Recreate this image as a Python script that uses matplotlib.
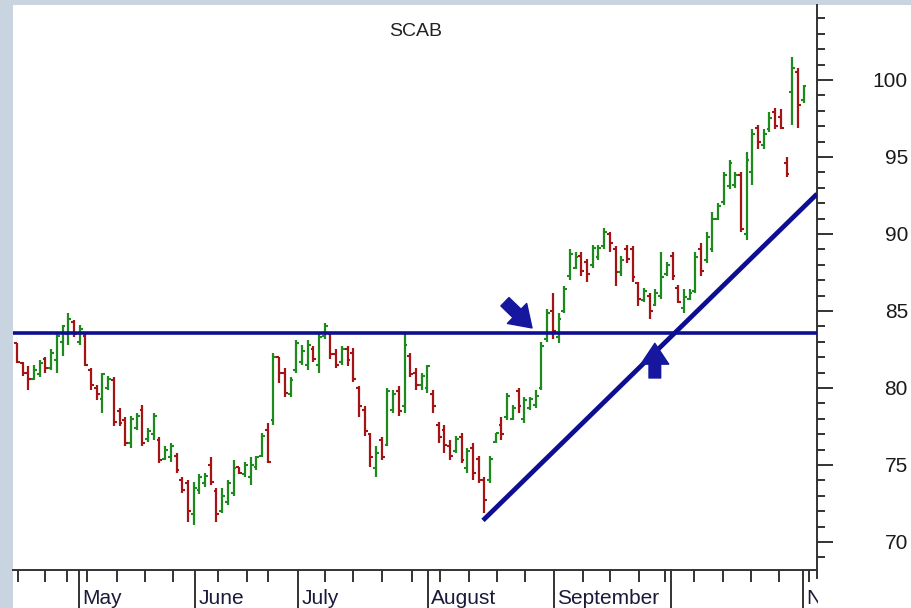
import matplotlib
matplotlib.use("Agg")
import matplotlib.pyplot as plt
from matplotlib.patches import Rectangle, FancyArrowPatch
from matplotlib.lines import Line2D
from matplotlib.ticker import MultipleLocator, FixedLocator, NullFormatter
from matplotlib.transforms import Bbox, TransformedBbox, blended_transform_factory
import numpy as np

# ---------------- data ----------------
title = "SCAB"
highs = [82.9, 81.7, 81.4, 81.5, 81.8, 82.0, 82.5, 83.6, 84.1, 84.9,
         84.4, 84.1, 83.6, 81.3, 80.2, 81.0, 80.8, 80.7, 78.7, 78.1,
         78.2, 78.4, 78.9, 77.4, 78.4, 76.8, 76.2, 76.4, 75.8, 74.2,
         74.0, 73.9, 74.4, 74.5, 75.5, 73.5, 73.5, 74.0, 75.3, 74.9,
         75.2, 75.5, 75.6, 77.1, 77.7, 82.3, 82.0, 81.3, 80.7, 83.1,
         82.8, 83.1, 82.7, 83.6, 84.2, 83.6, 82.5, 82.7, 82.7, 82.6,
         80.1, 78.8, 77.1, 76.2, 76.8, 80.0, 79.9, 80.1, 83.6, 82.3,
         81.3, 81.0, 81.5, 79.9, 77.8, 77.6, 76.6, 76.9, 77.1, 76.1,
         76.4, 75.6, 74.2, 75.6, 77.1, 78.1, 79.7, 78.9, 80.0, 79.4,
         79.4, 79.9, 83.0, 85.1, 86.2, 84.9, 86.6, 89.0, 88.8, 88.8,
         88.4, 89.3, 89.3, 90.4, 90.1, 89.2, 88.6, 89.3, 89.2, 86.9,
         86.5, 86.2, 86.4, 88.8, 88.2, 88.8, 86.7, 86.4, 86.4, 88.8,
         89.4, 90.1, 91.4, 92.0, 94.0, 94.8, 94.0, 94.0, 95.3, 96.8,
         97.1, 96.8, 97.9, 98.2, 98.1, 95.0, 101.5, 100.8, 99.7]
lows = [81.6, 80.8, 79.9, 80.5, 80.7, 81.0, 81.2, 81.0, 82.1, 82.8,
        83.3, 82.8, 81.4, 79.9, 79.2, 78.4, 79.9, 77.5, 77.5, 76.2,
        76.1, 77.3, 76.2, 76.5, 76.6, 75.1, 75.3, 75.2, 74.5, 73.2,
        71.3, 71.1, 73.1, 73.6, 73.7, 71.3, 71.9, 72.4, 73.0, 74.4,
        74.2, 73.7, 74.7, 75.5, 75.1, 77.6, 80.3, 79.4, 79.4, 81.0,
        81.5, 81.2, 81.7, 81.0, 83.2, 81.9, 81.3, 81.5, 81.4, 80.4,
        78.1, 76.9, 74.9, 74.2, 75.3, 76.2, 78.4, 78.2, 78.4, 80.7,
        79.9, 79.9, 79.7, 78.4, 76.4, 75.8, 75.3, 75.8, 75.1, 74.5,
        74.0, 73.8, 71.9, 73.8, 76.4, 76.6, 77.9, 77.9, 78.4, 77.7,
        78.6, 78.7, 79.9, 83.0, 83.2, 82.9, 84.9, 87.0, 87.7, 87.3,
        86.9, 87.8, 88.3, 89.0, 88.8, 86.6, 87.3, 88.1, 86.9, 85.3,
        85.6, 84.5, 85.3, 85.8, 87.3, 87.0, 85.5, 84.9, 85.7, 86.2,
        87.3, 88.1, 88.8, 90.9, 91.9, 92.9, 93.0, 90.1, 89.6, 93.2,
        95.5, 95.5, 96.6, 96.8, 96.8, 93.7, 97.1, 96.9, 98.5]
opens = [82.9, 81.6, 81.0, 80.6, 80.9, 81.9, 81.3, 81.8, 83.0, 83.5,
         84.3, 83.0, 83.4, 81.2, 80.0, 79.3, 80.0, 80.5, 78.5, 77.9,
         76.4, 77.4, 78.6, 76.7, 77.0, 76.6, 75.4, 75.5, 75.6, 74.0,
         73.8, 71.8, 73.4, 73.8, 75.0, 73.3, 72.0, 72.6, 73.2, 74.9,
         74.4, 74.2, 74.9, 75.6, 77.3, 77.9, 82.0, 81.0, 79.6, 81.2,
         81.7, 81.5, 82.5, 81.5, 83.4, 83.5, 82.2, 81.7, 82.5, 82.3,
         80.0, 78.6, 77.0, 74.8, 76.6, 76.3, 78.6, 79.8, 78.8, 82.1,
         81.0, 80.2, 80.0, 79.6, 77.6, 77.3, 76.2, 75.9, 76.8, 74.8,
         76.1, 75.4, 74.0, 74.0, 76.5, 77.6, 78.1, 78.0, 79.8, 78.0,
         78.7, 78.9, 80.0, 83.2, 85.0, 83.3, 85.0, 87.3, 87.8, 88.6,
         88.2, 88.0, 88.5, 89.2, 90.0, 89.0, 87.5, 89.0, 89.0, 86.8,
         85.7, 86.0, 85.4, 86.0, 87.4, 88.6, 86.5, 85.2, 85.8, 86.3,
         89.0, 88.3, 89.0, 91.0, 92.1, 93.1, 93.2, 93.8, 90.0, 94.0,
         96.9, 95.8, 96.8, 97.9, 97.6, 94.6, 99.2, 100.5, 98.7]
closes = [81.7, 81.0, 80.6, 81.2, 81.6, 81.3, 82.3, 83.4, 84.0, 84.5,
          83.5, 83.8, 81.5, 80.2, 79.6, 80.9, 80.6, 77.8, 77.7, 76.4,
          78.0, 78.2, 76.4, 77.2, 78.2, 75.3, 76.0, 76.2, 74.7, 73.4,
          72.0, 73.5, 74.2, 74.3, 73.9, 71.8, 73.0, 73.8, 74.8, 74.5,
          75.0, 75.0, 75.5, 76.9, 75.2, 82.0, 81.0, 79.7, 80.5, 82.9,
          82.4, 82.8, 81.9, 83.3, 84.0, 82.2, 81.5, 82.5, 81.8, 80.6,
          78.8, 77.2, 75.5, 75.8, 75.5, 79.8, 79.6, 78.5, 82.8, 80.9,
          80.2, 80.8, 81.4, 78.8, 76.8, 76.3, 75.6, 76.7, 75.3, 75.9,
          74.5, 74.0, 72.7, 75.4, 77.1, 77.0, 79.5, 78.7, 78.8, 79.2,
          79.3, 79.5, 82.7, 84.9, 83.7, 84.5, 86.4, 88.7, 88.5, 87.6,
          87.4, 89.1, 89.1, 90.1, 89.4, 87.5, 88.3, 88.4, 87.2, 85.8,
          86.3, 85.0, 86.2, 87.2, 88.0, 87.3, 85.6, 85.9, 86.2, 88.5,
          87.6, 89.8, 91.0, 91.8, 93.8, 94.6, 93.8, 90.3, 94.8, 96.5,
          96.0, 96.5, 97.5, 97.0, 96.9, 93.9, 100.8, 98.4, 99.6]

resistance = 83.6
trend_x = [81.75, 140.35]
trend_y = [71.4, 92.6]

month_labels = ["May", "June", "July", "August", "September", "", "November"]
month_pos = [10.9, 31.2, 49.3, 72.1, 94.2, 114.7, 137.9]
week_pos = [0.2, 4.9, 8.8, 12.3, 17.5, 22.5, 27.4, 35.3, 40.4, 44.0,
            54.0, 58.9, 64.0, 69.3, 74.2, 79.3, 84.2, 89.1, 99.3, 104.0,
            109.1, 113.7, 118.8, 123.9, 128.8, 133.7, 138.9]
y_ticks = [70, 75, 80, 85, 90, 95, 100]

down_arrow = [(85.6, 85.6), (90.35, 83.9)]
up_arrow = [(111.9, 80.65), (111.9, 82.9)]

# ---------------- styling ----------------
W, H = 912, 608
FONT = ["Liberation Sans", "DejaVu Sans"]
plt.rcParams['font.family'] = FONT
GREEN = "#1e8a1e"
RED = "#a51414"
NAVY = "#0e0e92"
AXC = "#333333"

fig = plt.figure(figsize=(W / 100, H / 100), dpi=100, facecolor="#c8d4e0")
fig.patches.append(Rectangle((13 / W, 0), 1, (H - 5) / H, transform=fig.transFigure,
                             facecolor="white", edgecolor="none", zorder=-10))

ax = fig.add_axes([13 / W, (H - 570) / H, (817 - 13) / W, (570 - 5) / H])
ax.set_zorder(2)
ax.set_facecolor("white")

idx = np.arange(len(highs))
cols = [GREEN if c >= o else RED for o, c in zip(opens, closes)]
ax.vlines(idx, lows, highs, colors=cols, lw=1.6, zorder=3)
ax.hlines(opens, idx - 0.5, idx, colors=cols, lw=1.5, zorder=3)
ax.hlines(closes, idx, idx + 0.5, colors=cols, lw=1.5, zorder=3)

ax.axhline(resistance, color=NAVY, lw=2.6, zorder=4)
ax.plot(trend_x, trend_y, color=NAVY, lw=3.4, zorder=4, solid_capstyle="butt")

for (tail, tip) in (down_arrow, up_arrow):
    ax.add_patch(FancyArrowPatch(tail, tip, arrowstyle="simple,head_length=0.75,head_width=1.0,tail_width=0.42",
                                 mutation_scale=20, color="#16169e", shrinkA=0, shrinkB=0, zorder=5))

ax.set_xlim(-0.7, 140.35)
ax.set_ylim(68.18, 104.87)

for s in ("left", "top"):
    ax.spines[s].set_visible(False)
for s in ("right", "bottom"):
    ax.spines[s].set_color(AXC)
    ax.spines[s].set_linewidth(1.4)

# y axis on right
ax.yaxis.tick_right()
ax.set_yticks(y_ticks)
ax.yaxis.set_minor_locator(MultipleLocator(1))
ax.tick_params(axis="y", which="major", direction="out", length=11.5, width=1.4,
               color=AXC, pad=54, labelsize=15, labelcolor="#1a1a1a")
ax.tick_params(axis="y", which="minor", direction="out", length=6, width=1.4, color=AXC)
for lbl in ax.get_yticklabels():
    lbl.set_horizontalalignment("right")

# x axis
ax.xaxis.set_major_locator(FixedLocator(month_pos))
ax.xaxis.set_minor_locator(FixedLocator(week_pos))
ax.xaxis.set_major_formatter(NullFormatter())
ax.tick_params(axis="x", which="major", direction="out", length=28, width=1.4, color=AXC)
ax.tick_params(axis="x", which="minor", direction="out", length=8.5, width=1.4, color=AXC)

# right spine continues slightly below bottom
fig.add_artist(Line2D([817 / W, 817 / W], [(H - 578) / H, (H - 570) / H], color=AXC, lw=1.4))

# month labels
trans = blended_transform_factory(ax.transData, fig.transFigure)
clip = TransformedBbox(Bbox([[0, 0], [818 / W, 1]]), fig.transFigure)
for name, pos in zip(month_labels, month_pos):
    if not name:
        continue
    t = ax.text(pos + 0.6, (H - 604) / H, name, transform=trans, ha="left", va="baseline",
                fontsize=15, color="#1a1a3a", clip_on=True)
    t.set_clip_box(clip)

fig.text(416 / W, (H - 32) / H, title, ha="center", va="center", fontsize=14, color="#222222")

fig.savefig("out.png", dpi=100, facecolor=fig.get_facecolor())
